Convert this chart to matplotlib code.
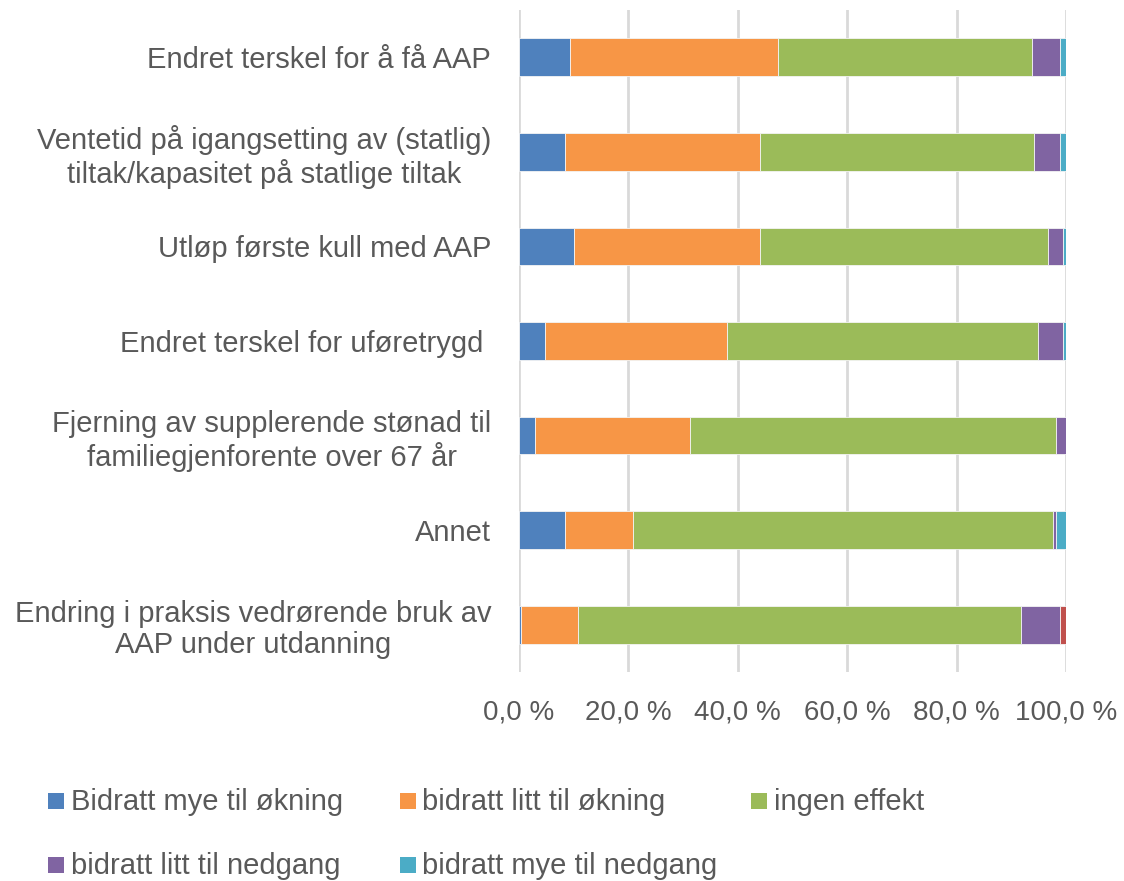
import matplotlib
matplotlib.use("Agg")
import matplotlib.pyplot as plt
from matplotlib.patches import Rectangle
from matplotlib.ticker import FuncFormatter
import numpy as np

plt.rcParams['font.family'] = ['Liberation Sans', 'DejaVu Sans']

# Data (percent of respondents), top to bottom
categories = [
    "Endret terskel for å få AAP",
    "Ventetid på igangsetting av (statlig)\ntiltak/kapasitet på statlige tiltak",
    "Utløp første kull med AAP",
    "Endret terskel for uføretrygd ",
    "Fjerning av supplerende stønad til\nfamiliegjenforente over 67 år",
    "Annet",
    "Endring i praksis vedrørende bruk av\nAAP under utdanning",
]
mye_okning = [9.3, 8.4, 10.1, 4.8, 2.9, 8.4, 0.3]
litt_okning = [38.1, 35.7, 34.0, 33.3, 28.4, 12.5, 10.4]
ingen_effekt = [46.3, 50.0, 52.7, 56.8, 66.9, 76.7, 81.1]
litt_nedgang = [5.2, 4.8, 2.7, 4.6, 1.8, 0.6, 7.1]
mye_nedgang = [1.1, 1.1, 0.5, 0.5, 0.0, 1.8, 0.0]
annet_rest = [0.0, 0.0, 0.0, 0.0, 0.0, 0.0, 1.1]

series = [mye_okning, litt_okning, ingen_effekt, litt_nedgang, mye_nedgang, annet_rest]
series_names = ["Bidratt mye til økning", "bidratt litt til økning", "ingen effekt",
                "bidratt litt til nedgang", "bidratt mye til nedgang", None]
colors = ["#4F81BD", "#F79646", "#9BBB59", "#8064A2", "#4BACC6", "#C0504D"]
text_col = "#595959"

fig = plt.figure(figsize=(11.24, 8.81), dpi=100)
W, H = 1124, 881
ax = fig.add_axes([519 / W, 1 - 672 / H, (1066 - 519) / W, (672 - 10) / H])

y = np.arange(len(categories))
left = np.zeros(len(categories))
for vals, col in zip(series, colors):
    vals = np.array(vals)
    ax.barh(y, vals, left=left, height=0.4, color=col, edgecolor="#f4f4f4",
            linewidth=0.6, zorder=3)
    left += vals

ax.set_ylim(len(categories) - 0.5, -0.5)
ax.set_xlim(0, 100)
ax.set_xticks(np.arange(0, 101, 20))
ax.xaxis.set_major_formatter(FuncFormatter(lambda v, p: f"{v:.1f} %".replace(".", ",")))
ax.grid(axis="x", color="#D9D9D9", linewidth=2, zorder=0)
for s in ax.spines.values():
    s.set_visible(False)
ax.tick_params(axis="both", length=0, colors=text_col)
ax.tick_params(axis="x", pad=20, labelsize=20)
ax.tick_params(axis="y", pad=20, labelsize=21)
ax.set_yticks(y)
ax.set_yticklabels(categories)
for lbl in ax.get_yticklabels():
    lbl.set_multialignment("center")
    lbl.set_linespacing(1.17)

# legend, laid out in three equal columns
for i, (name, col) in enumerate(zip(series_names, colors)):
    if name is None:
        continue
    cx = 56 + (i % 3) * 351.5
    cy = 800.5 + (i // 3) * 64
    fig.patches.append(Rectangle(((cx - 8) / W, 1 - (cy + 8) / H), 16 / W, 16 / H,
                                 transform=fig.transFigure, facecolor=col, edgecolor="none"))
    fig.text((cx + 15) / W, 1 - (cy + 1) / H, name, fontsize=21, color=text_col,
             ha="left", va="center")

fig.savefig("out.png", dpi=100)
